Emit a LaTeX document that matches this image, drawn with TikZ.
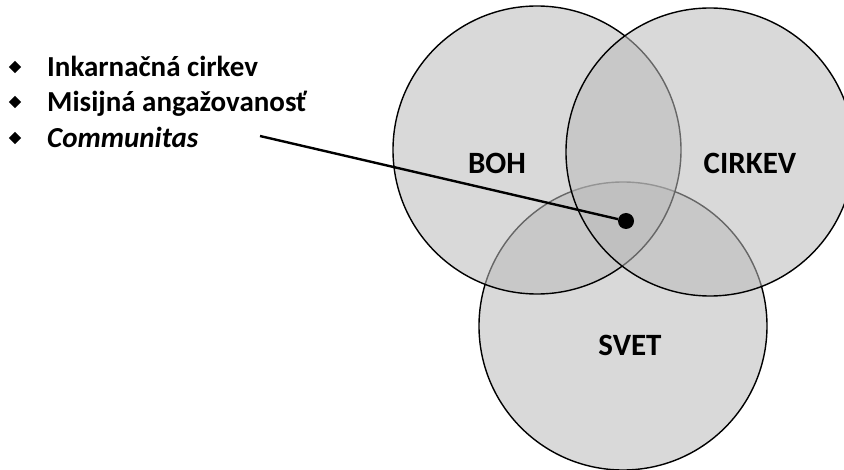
\documentclass[tikz,border=0pt]{standalone}
\usepackage{fontspec}
\setmainfont{Carlito}
\usetikzlibrary{shapes.geometric}

\definecolor{venngray}{gray}{0.73}
\tikzset{
    venn/.style={circle, draw=black, line width=1.4pt, fill=venngray, fill opacity=0.55, minimum size=288pt, inner sep=0pt},
    setlabel/.style={font=\fontsize{31}{37}\selectfont\bfseries},
    item/.style={anchor=base west, inner sep=0pt, font=\fontsize{29}{35}\selectfont\bfseries},
    bullet/.style={diamond, fill=black, inner sep=0pt, minimum size=12.5pt}
}

\begin{document}
\begin{tikzpicture}[x=1pt,y=-1pt]
    \useasboundingbox (0,0) rectangle (844,470);

    % Circles
    \node[venn] (svet) at (623,326) {};
    \node[venn] (boh) at (537,150) {};
    \node[venn] (cirkev) at (710,152) {};

    % Labels for sets
    \node[setlabel] (bohlabel) at (497,163) {BOH};
    \node[setlabel] (cirkevlabel) at (750,163) {CIRKEV};
    \node[setlabel] (svetlabel) at (630,345) {SVET};

    % List
    \node[bullet] (b1) at (15,67) {};
    \node[item] (incarnational) at (47,77) {Inkarnačná cirkev};
    \node[bullet] (b2) at (15,102) {};
    \node[item] (missional) at (47,112) {Misijná angažovanosť};
    \node[bullet] (b3) at (15,138) {};
    \node[item] (communitas) at (47,148) {\itshape Communitas};

    % Pointer to the centre
    \node[circle, fill=black, minimum size=16pt, inner sep=0pt] (dot) at (626,221) {};
    \coordinate (tail) at (260,136);
    \draw[line width=2.4pt] (tail) -- (dot);
\end{tikzpicture}
\end{document}
